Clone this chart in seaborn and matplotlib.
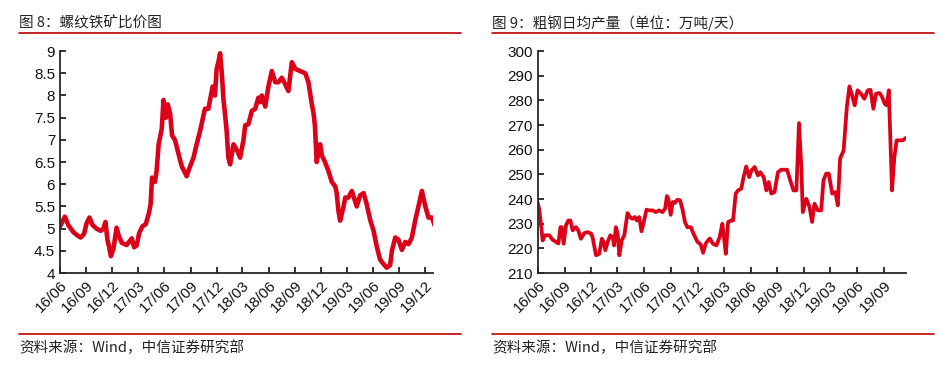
import pandas as pd
import matplotlib
matplotlib.use("Agg")
import matplotlib.pyplot as plt
import matplotlib.dates as mdates
from matplotlib.lines import Line2D
import seaborn as sns

# ---- 图8: 螺纹铁矿比价 ----
ratio_dates = [
    "2016-06-01", "2016-06-18", "2016-06-30", "2016-07-18", "2016-07-31", "2016-08-12", "2016-08-24",
    "2016-09-02", "2016-09-12", "2016-09-23", "2016-10-07", "2016-10-21", "2016-10-31", "2016-11-07",
    "2016-11-14", "2016-11-21", "2016-11-26", "2016-12-05", "2016-12-16", "2016-12-23", "2017-01-03",
    "2017-01-20", "2017-02-07", "2017-02-15", "2017-02-24", "2017-03-05", "2017-03-16", "2017-03-28",
    "2017-04-08", "2017-04-14", "2017-04-19", "2017-04-29", "2017-05-05", "2017-05-12", "2017-05-23",
    "2017-05-29", "2017-06-06", "2017-06-13", "2017-06-21", "2017-06-28", "2017-07-08", "2017-07-20",
    "2017-08-01", "2017-08-09", "2017-08-18", "2017-08-24", "2017-08-30", "2017-09-11", "2017-09-22",
    "2017-10-04", "2017-10-16", "2017-10-21", "2017-11-02", "2017-11-08", "2017-11-17", "2017-11-25",
    "2017-12-01", "2017-12-07", "2017-12-13", "2017-12-19", "2017-12-25", "2017-12-30", "2018-01-05",
    "2018-01-11", "2018-01-17", "2018-01-29", "2018-02-03", "2018-02-15", "2018-02-21", "2018-03-05",
    "2018-03-11", "2018-03-22", "2018-04-03", "2018-04-15", "2018-04-26", "2018-05-02", "2018-05-08",
    "2018-05-20", "2018-05-31", "2018-06-12", "2018-06-24", "2018-07-05", "2018-07-17", "2018-07-29",
    "2018-08-09", "2018-08-21", "2018-09-02", "2018-09-19", "2018-10-07", "2018-10-18", "2018-10-30",
    "2018-11-05", "2018-11-10", "2018-11-16", "2018-11-28", "2018-12-04", "2018-12-15", "2018-12-27",
    "2019-01-08", "2019-01-20", "2019-01-25", "2019-01-31", "2019-02-06", "2019-02-18", "2019-02-24",
    "2019-03-07", "2019-03-19", "2019-03-31", "2019-04-05", "2019-04-17", "2019-04-29", "2019-05-10",
    "2019-05-22", "2019-06-03", "2019-06-14", "2019-06-26", "2019-07-08", "2019-07-19", "2019-07-31",
    "2019-08-06", "2019-08-18", "2019-08-29", "2019-09-10", "2019-09-22", "2019-10-03", "2019-10-15",
    "2019-10-27", "2019-11-07", "2019-11-19", "2019-12-01", "2019-12-12", "2019-12-24", "2020-01-04",
]
ratio_values = [
    5.05, 5.27, 5.08, 4.92, 4.85, 4.80, 4.88,
    5.12, 5.25, 5.08, 5.00, 4.95, 5.00, 5.15,
    4.75, 4.55, 4.38, 4.55, 5.02, 4.85, 4.68,
    4.63, 4.78, 4.58, 4.62, 4.90, 5.05, 5.10,
    5.35, 5.55, 6.15, 6.05, 6.30, 6.90, 7.25,
    7.90, 7.50, 7.80, 7.60, 7.10, 7.00, 6.70,
    6.40, 6.30, 6.18, 6.30, 6.40, 6.60, 6.90,
    7.20, 7.55, 7.70, 7.70, 7.90, 8.20, 8.00,
    8.60, 8.75, 8.95, 8.50, 7.90, 7.60, 7.20,
    6.60, 6.45, 6.90, 6.85, 6.70, 6.60, 7.00,
    7.33, 7.35, 7.65, 7.70, 7.95, 7.85, 8.00,
    7.75, 8.20, 8.55, 8.30, 8.30, 8.40, 8.25,
    8.10, 8.75, 8.60, 8.55, 8.50, 8.30, 7.80,
    7.60, 7.30, 6.50, 6.90, 6.65, 6.50, 6.30,
    6.05, 5.95, 5.80, 5.40, 5.18, 5.50, 5.70,
    5.70, 5.85, 5.60, 5.50, 5.75, 5.80, 5.55,
    5.20, 4.95, 4.60, 4.30, 4.20, 4.12, 4.18,
    4.50, 4.80, 4.75, 4.52, 4.70, 4.65, 4.80,
    5.20, 5.50, 5.85, 5.50, 5.25, 5.25, 5.05,
]

# ---- 图9: 粗钢日均产量 ----
steel_dates = [
    "2016-06-01", "2016-06-06", "2016-06-12", "2016-06-18", "2016-06-26", "2016-07-11", "2016-07-22",
    "2016-08-03", "2016-08-11", "2016-08-18", "2016-08-22", "2016-08-29", "2016-09-06", "2016-09-14",
    "2016-09-21", "2016-09-29", "2016-10-10", "2016-10-18", "2016-10-27", "2016-11-08", "2016-11-19",
    "2016-12-01", "2016-12-06", "2016-12-18", "2016-12-29", "2017-01-07", "2017-01-13", "2017-01-19",
    "2017-01-27", "2017-02-05", "2017-02-13", "2017-02-18", "2017-02-24", "2017-03-02", "2017-03-08",
    "2017-03-16", "2017-03-25", "2017-04-05", "2017-04-13", "2017-04-22", "2017-04-30", "2017-05-07",
    "2017-05-15", "2017-05-23", "2017-06-01", "2017-06-09", "2017-06-18", "2017-06-30", "2017-07-11",
    "2017-07-22", "2017-08-03", "2017-08-12", "2017-08-18", "2017-08-23", "2017-08-31", "2017-09-07",
    "2017-09-14", "2017-09-23", "2017-10-02", "2017-10-10", "2017-10-19", "2017-10-27", "2017-11-08",
    "2017-11-17", "2017-12-01", "2017-12-12", "2017-12-20", "2017-12-29", "2018-01-06", "2018-01-12",
    "2018-01-23", "2018-02-04", "2018-02-15", "2018-02-24", "2018-03-01", "2018-03-08", "2018-03-16",
    "2018-03-27", "2018-04-02", "2018-04-11", "2018-04-19", "2018-04-30", "2018-05-08", "2018-05-17",
    "2018-05-27", "2018-06-04", "2018-06-15", "2018-06-26", "2018-07-04", "2018-07-16", "2018-07-25",
    "2018-08-02", "2018-08-11", "2018-08-22", "2018-09-03", "2018-09-14", "2018-10-04", "2018-10-15",
    "2018-10-26", "2018-11-05", "2018-11-14", "2018-11-22", "2018-11-27", "2018-12-09", "2018-12-20",
    "2018-12-29", "2019-01-06", "2019-01-18", "2019-01-29", "2019-02-06", "2019-02-15", "2019-02-24",
    "2019-03-08", "2019-03-19", "2019-03-27", "2019-04-04", "2019-04-16", "2019-04-27", "2019-05-06",
    "2019-05-15", "2019-05-24", "2019-06-03", "2019-06-15", "2019-06-26", "2019-07-08", "2019-07-17",
    "2019-07-27", "2019-08-05", "2019-08-17", "2019-08-26", "2019-09-04", "2019-09-11", "2019-09-18",
    "2019-09-29", "2019-10-07", "2019-10-15", "2019-10-24", "2019-11-05", "2019-11-14", "2019-11-22",
]
steel_values = [
    238.5, 236.0, 230.0, 223.2, 225.3, 225.3, 223.5,
    222.6, 222.0, 228.6, 228.6, 221.9, 229.3, 231.3,
    231.3, 227.3, 228.6, 227.3, 223.9, 226.2, 226.6,
    226.0, 224.6, 217.2, 217.8, 223.9, 222.6, 219.2,
    222.6, 225.3, 224.6, 221.2, 228.6, 226.0, 217.2,
    223.2, 225.3, 234.3, 232.7, 232.0, 232.7, 231.3,
    232.7, 226.9, 231.3, 235.7, 235.4, 235.4, 234.7,
    235.4, 234.7, 236.1, 241.2, 240.1, 233.6, 238.8,
    238.4, 239.7, 239.5, 236.1, 230.7, 228.6, 228.6,
    226.0, 222.6, 221.6, 218.2, 221.9, 223.2, 224.0,
    221.9, 221.2, 224.6, 230.0, 225.3, 217.8, 230.7,
    231.3, 231.3, 242.2, 243.5, 244.2, 248.9, 253.2,
    248.9, 251.6, 253.0, 249.6, 250.9, 248.9, 243.5,
    246.9, 242.2, 242.8, 250.9, 251.9, 251.9, 247.6,
    243.5, 243.5, 270.8, 253.0, 234.7, 240.1, 236.8,
    230.7, 238.1, 235.4, 235.4, 247.6, 250.3, 250.3,
    242.2, 242.8, 237.4, 256.4, 259.7, 277.3, 285.7,
    282.0, 278.0, 284.1, 282.7, 280.7, 284.1, 284.3,
    276.6, 282.7, 283.0, 281.4, 278.6, 278.0, 284.1,
    243.5, 257.0, 263.8, 263.8, 263.8, 264.7, 264.9,
]

titles = ["图 8：螺纹铁矿比价图", "图 9：粗钢日均产量（单位：万吨/天）"]
source_text = "资料来源：Wind，中信证券研究部"

ratio_df = pd.DataFrame({"date": pd.to_datetime(ratio_dates), "value": ratio_values})
steel_df = pd.DataFrame({"date": pd.to_datetime(steel_dates), "value": steel_values})

sns.set_style("ticks")
plt.rcParams["font.family"] = ["Liberation Sans", "DejaVu Sans"]
cjk = ["Noto Sans CJK SC", "DejaVu Sans"]
red = "#DC0018"
rule = "#C00000"

fig = plt.figure(figsize=(9.42, 3.65), dpi=100)
ax1 = fig.add_axes([0.0637, 0.252, 0.396, 0.608])
ax2 = fig.add_axes([0.5708, 0.252, 0.391, 0.608])

sns.lineplot(data=ratio_df, x="date", y="value", ax=ax1, color=red, linewidth=3.3)
sns.lineplot(data=steel_df, x="date", y="value", ax=ax2, color=red, linewidth=2.7)

ax1.set_ylim(4, 9)
ax1.set_yticks([4, 4.5, 5, 5.5, 6, 6.5, 7, 7.5, 8, 8.5, 9])
ax1.set_yticklabels(["4", "4.5", "5", "5.5", "6", "6.5", "7", "7.5", "8", "8.5", "9"])
ax1.set_xlim(pd.Timestamp("2016-06-01"), pd.Timestamp("2019-12-28"))
ax2.set_ylim(210, 300)
ax2.set_yticks(range(210, 301, 10))
ax2.set_xlim(pd.Timestamp("2016-06-01"), pd.Timestamp("2019-11-16"))

for ax in (ax1, ax2):
    ax.xaxis.set_major_locator(mdates.MonthLocator(bymonth=[3, 6, 9, 12]))
    ax.xaxis.set_major_formatter(mdates.DateFormatter("%y/%m"))
    ax.set_xlabel("")
    ax.set_ylabel("")
    sns.despine(ax=ax)
    ax.spines["left"].set_linewidth(1.3)
    ax.spines["bottom"].set_linewidth(1.3)
    ax.tick_params(direction="in", length=4, width=1.2, labelsize=11, colors="#111111")
    ax.tick_params(axis="x", pad=4)
    for lbl in ax.get_xticklabels():
        lbl.set_rotation(45)
        lbl.set_ha("right")
        lbl.set_rotation_mode("anchor")

# titles, rules, sources
for x0, x1, title in [(0.0202, 0.4894, titles[0]), (0.5223, 0.9912, titles[1])]:
    fig.text(x0, 0.937, title, family=cjk, fontsize=10.5, color="#222222", va="center", ha="left")
    fig.add_artist(Line2D([x0, x1], [0.9096, 0.9096], color=rule, linewidth=1.2))
    fig.add_artist(Line2D([x0, x1], [0.0841, 0.0841], color=rule, linewidth=1.2))
    fig.text(x0, 0.048, source_text, family=cjk, fontsize=10.5, color="#222222", va="center", ha="left")

fig.savefig("out.png", dpi=100)
plt.close()
